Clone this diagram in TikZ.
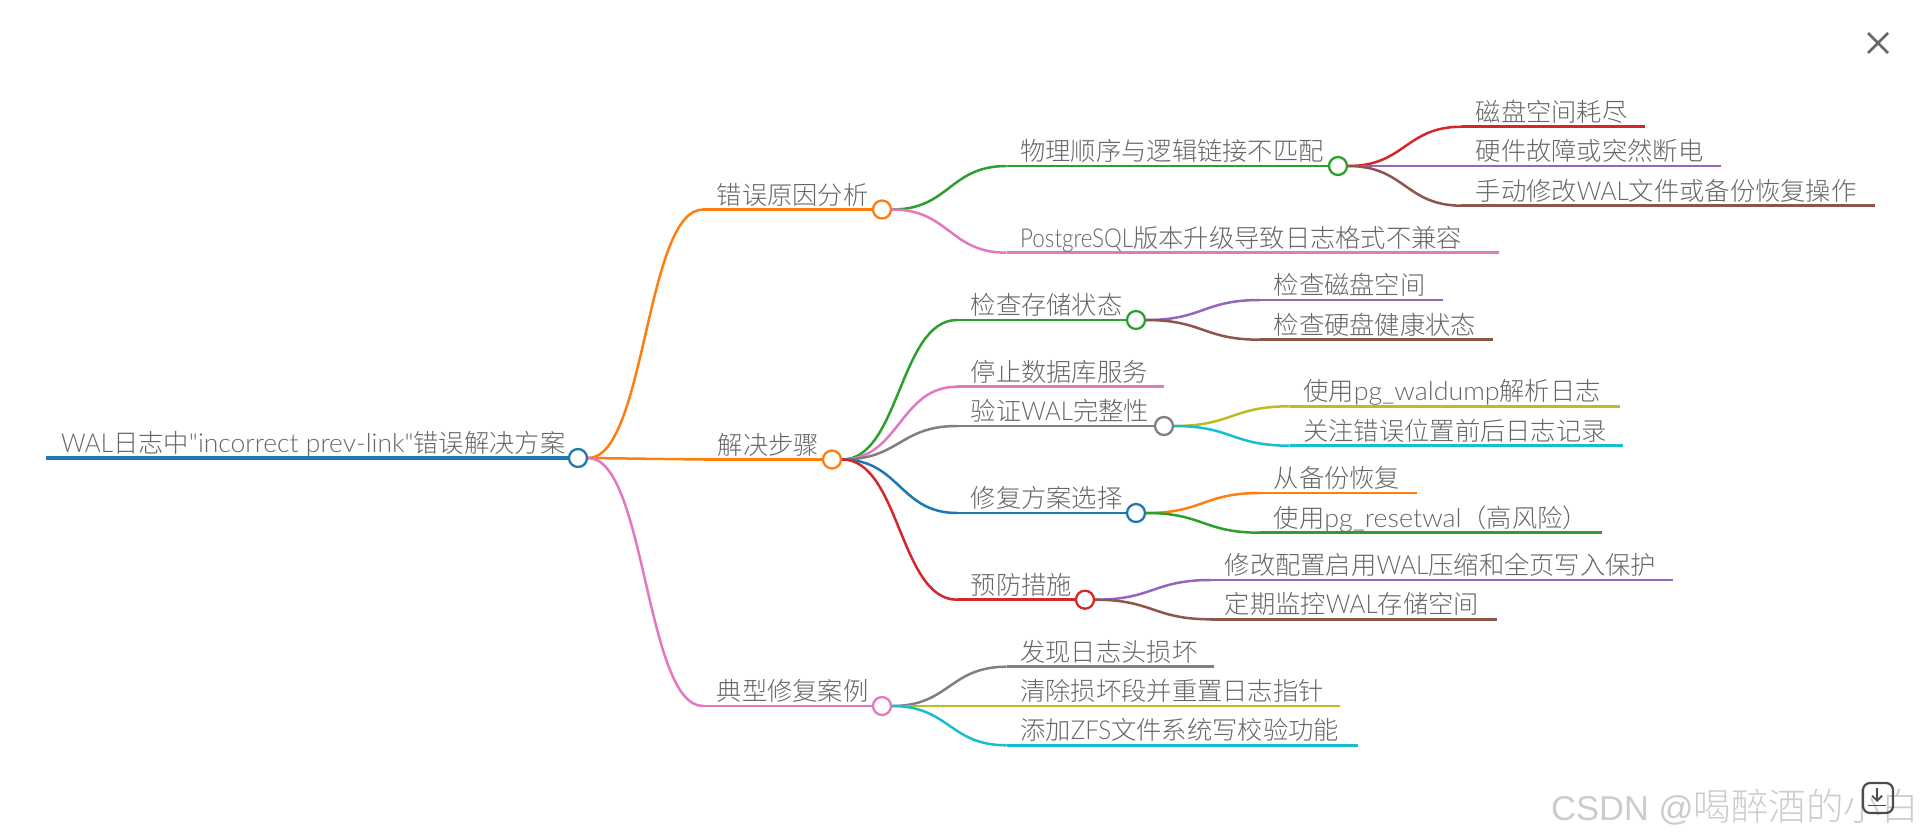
\documentclass[tikz,border=0pt]{standalone}
\usepackage{fontspec}
\usetikzlibrary{calc,backgrounds,arrows.meta}
\newfontfamily\cjk[UprightFont=* Light]{Noto Sans CJK SC}
\newfontfamily\cjkreg[UprightFont=* Light]{Noto Sans CJK SC}
\newfontfamily\latq[Scale=1.03,FakeStretch=1.015]{Lato Light}
\newfontfamily\latcap[Scale=1.03,FakeStretch=0.93]{Lato Light}
\newfontfamily\latpost[Scale=1.03,FakeStretch=0.86]{Lato Light}
\newfontfamily\latlow[Scale=1.03,FakeStretch=1.03]{Lato Light}
\newfontfamily\wmlat{Liberation Sans}
\newcommand{\ltq}[1]{{\latq #1}}
\newcommand{\ltc}[1]{{\latcap #1}}
\newcommand{\ltp}[1]{{\latpost #1}}
\newcommand{\ltl}[1]{{\latlow #1}}
\definecolor{c1}{HTML}{1F77B4}
\definecolor{c2}{HTML}{FF7F0E}
\definecolor{c3}{HTML}{2CA02C}
\definecolor{c4}{HTML}{D62728}
\definecolor{c5}{HTML}{9467BD}
\definecolor{c6}{HTML}{8C564B}
\definecolor{c7}{HTML}{E377C2}
\definecolor{c8}{HTML}{7F7F7F}
\definecolor{c9}{HTML}{BCBD22}
\definecolor{c10}{HTML}{17BECF}
\definecolor{txt}{HTML}{666666}
\tikzset{
  dot/.style={circle,draw=#1,fill=white,line width=2.3pt,minimum size=18pt,inner sep=0pt},
  lab/.style={anchor=base west,inner sep=0pt,text=txt,font=\cjk\fontsize{25.3}{25.3}\selectfont},
  wire/.style={draw=#1,line width=2.5pt},
}
\newcommand{\curvelink}[3]{%
  \begin{scope}[on background layer]
  \draw[wire=#3] let \p1=(#1),\p2=(#2) in (\p1) .. controls ($(\x1,\y1)!.5!(\x2,\y1)$) and ($(\x1,\y2)!.5!(\x2,\y2)$) .. (\p2);
  \end{scope}}
\newcommand{\branch}[7]{%
  \coordinate (#1s) at (#4,#6);
  \node[dot=#2] (#1) at (#5,#6) {};
  \node[lab] (#1t) at (#4+13.5,#6-5.5) {#7};
  \curvelink{#3.east}{#1s}{#2}
  \begin{scope}[on background layer]\draw[wire=#2] (#1s) -- (#1.center);\end{scope}}
\newcommand{\leaf}[7]{%
  \coordinate (#1s) at (#4,#6);
  \coordinate (#1) at (#5,#6);
  \node[lab] (#1t) at (#4+13.5,#6-5.5) {#7};
  \curvelink{#3.east}{#1s}{#2}
  \begin{scope}[on background layer]\draw[wire=#2] (#1s) -- (#1);\end{scope}}
\begin{document}
\begin{tikzpicture}[x=1pt,y=-1pt]
\useasboundingbox (0,0) rectangle (1920,839);
% root
\coordinate (rs) at (46,458);
\node[dot=c1] (r) at (578,458) {};
\node[lab] (rt) at (61,452.5) {\ltc{WAL}日志中\ltq{"incorrect prev-link"}错误解决方案};
\begin{scope}[on background layer]\draw[draw=c1,line width=3.6pt] (rs) -- (r.center);\end{scope}
% level 1
\branch{a}{c2}{r}{703}{882}{209.5}{错误原因分析}
\branch{b}{c2}{r}{704}{832}{459.5}{解决步骤}
\branch{d}{c7}{r}{703}{882}{706}{典型修复案例}
% causes
\branch{a1}{c3}{a}{1006.5}{1338}{166}{物理顺序与逻辑链接不匹配}
\leaf{a2}{c7}{a}{1006.5}{1499}{252.7}{\ltp{PostgreSQL}版本升级导致日志格式不兼容}
\leaf{a11}{c4}{a1}{1462}{1645}{126.7}{磁盘空间耗尽}
\leaf{a12}{c5}{a1}{1462}{1721}{166}{硬件故障或突然断电}
\leaf{a13}{c6}{a1}{1462}{1875}{205.7}{手动修改\ltc{WAL}文件或备份恢复操作}
% steps
\branch{b1}{c3}{b}{957}{1136}{320}{检查存储状态}
\leaf{b2}{c7}{b}{957}{1164}{386.7}{停止数据库服务}
\branch{b3}{c8}{b}{957}{1164}{426}{验证\ltc{WAL}完整性}
\branch{b4}{c1}{b}{957}{1136}{513}{修复方案选择}
\branch{b5}{c4}{b}{957}{1085}{599.7}{预防措施}
\leaf{b11}{c5}{b1}{1260}{1442.5}{300}{检查磁盘空间}
\leaf{b12}{c6}{b1}{1260}{1493}{339.7}{检查硬盘健康状态}
\leaf{b31}{c9}{b3}{1289.5}{1619.5}{406.3}{使用\ltl{pg\_waldump}解析日志}
\leaf{b32}{c10}{b3}{1289.5}{1622.6}{445.7}{关注错误位置前后日志记录}
\leaf{b41}{c2}{b4}{1260}{1417}{493}{从备份恢复}
\leaf{b42}{c3}{b4}{1260}{1602.4}{532.7}{使用\ltl{pg\_resetwal}（高风险）}
\leaf{b51}{c5}{b5}{1211}{1673.4}{580}{修改配置启用\ltc{WAL}压缩和全页写入保护}
\leaf{b52}{c6}{b5}{1211}{1496.5}{619.3}{定期监控\ltc{WAL}存储空间}
% cases
\leaf{d1}{c8}{d}{1006.5}{1214}{666.7}{发现日志头损坏}
\leaf{d2}{c9}{d}{1006.5}{1340}{706}{清除损坏段并重置日志指针}
\leaf{d3}{c10}{d}{1006.5}{1358}{745.3}{添加\ltc{ZFS}文件系统写校验功能}
% close mark
\coordinate (xa) at (1868,33); \coordinate (xb) at (1888,53);
\coordinate (xc) at (1888,33); \coordinate (xd) at (1868,53);
\draw[line width=2.6pt,draw=black!60] (xa) -- (xb) (xc) -- (xd);
% watermark
\node[anchor=base west,inner sep=0pt,text=black!20,font=\cjkreg\fontsize{37.5}{37.5}\selectfont] (wm) at (1551,820) {{\wmlat\fontsize{34.5}{34.5}\selectfont CSDN @}喝醉酒的小白};
% download button
\node[draw=black!70,line width=2.2pt,rounded corners=7pt,minimum width=30pt,minimum height=30pt,inner sep=0pt] (dl) at (1878,798) {};
\coordinate (da) at (1877,788); \coordinate (db) at (1877,802);
\draw[line width=1.8pt,draw=black!70,-{Straight Barb[length=5pt,width=10pt]}] (da) -- (db);
\coordinate (dc) at (1868,805.5); \coordinate (dd) at (1886,805.5);
\draw[line width=1.8pt,draw=black!70] (dc) -- (dd);
\end{tikzpicture}
\end{document}
